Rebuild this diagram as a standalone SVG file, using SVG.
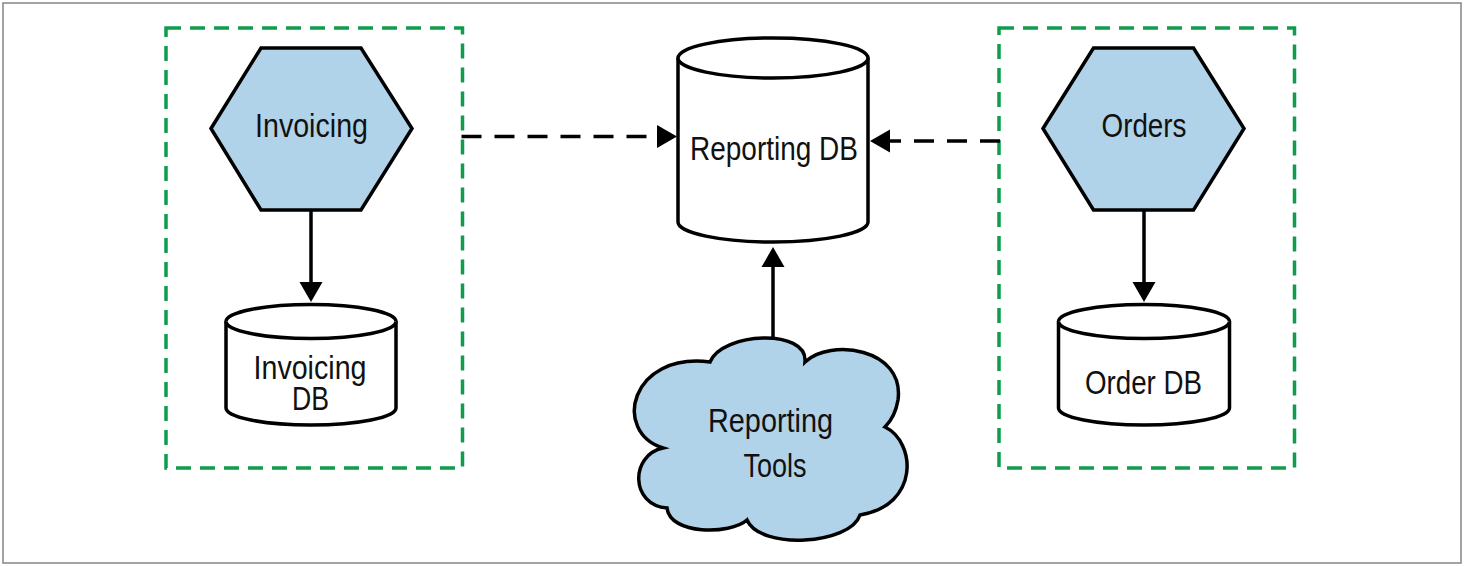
<svg xmlns="http://www.w3.org/2000/svg" width="1464" height="566" viewBox="0 0 1464 566">
<style>
.frame{fill:#fff;stroke:#858585;stroke-width:1.5}
.bound{fill:none;stroke:#0f9d4c;stroke-width:3.5;stroke-dasharray:15 9}
.svc{fill:#b1d3ea;stroke:#000;stroke-width:3.5;stroke-linejoin:miter}
.db{fill:#fff;stroke:#000;stroke-width:3.5}
.lbl{font-family:"Liberation Sans",Arial,sans-serif;font-size:33px;fill:#111;text-anchor:middle}
.conn{fill:none;stroke:#000;stroke-width:3.5}
.dash{stroke-dasharray:20 13}
</style>
<defs>
<marker id="head" markerUnits="userSpaceOnUse" markerWidth="22" markerHeight="25" refX="0" refY="11.5" orient="auto" overflow="visible">
<path d="M0,0 L20,11.5 L0,23 Z" fill="#000"/>
</marker>
</defs>
<rect class="frame" x="3" y="3" width="1458" height="560"/>
<g id="invoicing-boundary"><rect class="bound" x="166" y="28" width="296.5" height="440"/></g>
<g id="orders-boundary"><rect class="bound" x="999" y="28" width="295.5" height="440"/></g>
<g id="connectors">
<path class="conn dash" d="M461.5,136.5 H657" marker-end="url(#head)"/>
<path class="conn dash" d="M1000,141 H890" marker-end="url(#head)"/>
<path class="conn" d="M773,338 V267" marker-end="url(#head)"/>
<path class="conn" d="M311,210 V282" marker-end="url(#head)"/>
<path class="conn" d="M1144,210 V282" marker-end="url(#head)"/>
</g>
<g id="invoicing">
<polygon class="svc" points="211,128.5 261,48 361,48 412,128.5 361,210 261,210"/>
<text class="lbl" x="311.5" y="137" textLength="113" lengthAdjust="spacingAndGlyphs">Invoicing</text>
</g>
<g id="orders">
<polygon class="svc" points="1043,128.5 1093.5,48 1193.5,48 1244,128.5 1193.5,210 1093.5,210"/>
<text class="lbl" x="1144" y="137" textLength="85" lengthAdjust="spacingAndGlyphs">Orders</text>
</g>
<g id="reporting-db">
<path class="db" d="M678,58 V222 A95,20 0 0 0 868,222 V58 A95,20 0 0 0 678,58 Z"/>
<path class="db" d="M678,58 A95,20 0 0 0 868,58" fill="none"/>
<text class="lbl" x="774" y="159.5" textLength="168" lengthAdjust="spacingAndGlyphs">Reporting DB</text>
</g>
<g id="invoicing-db">
<path class="db" d="M226,321.5 V408 A85,17 0 0 0 396,408 V321.5 A85,17 0 0 0 226,321.5 Z"/>
<path class="db" d="M226,321.5 A85,17 0 0 0 396,321.5" fill="none"/>
<text class="lbl" x="310" y="378.5" textLength="113" lengthAdjust="spacingAndGlyphs">Invoicing</text>
<text class="lbl" x="310.5" y="410" textLength="37" lengthAdjust="spacingAndGlyphs">DB</text>
</g>
<g id="order-db">
<path class="db" d="M1058.5,321.5 V408 A85.5,17 0 0 0 1229.5,408 V321.5 A85.5,17 0 0 0 1058.5,321.5 Z"/>
<path class="db" d="M1058.5,321.5 A85.5,17 0 0 0 1229.5,321.5" fill="none"/>
<text class="lbl" x="1143.5" y="393.5" textLength="117" lengthAdjust="spacingAndGlyphs">Order DB</text>
</g>
<g id="reporting-tools">
<path class="svc" stroke-linejoin="round" d="M710,362 C722,332 808,328 805,362 C830,338 905,348 898,400 C896,412 891,421 885,427 C916,442 920,505 860,515 C850,545 760,550 747,520 C730,535 670,535 667,508 C630,505 630,455 663,448 C612,432 630,352 710,362 Z"/>
<text class="lbl" x="770.5" y="431.5" textLength="125" lengthAdjust="spacingAndGlyphs">Reporting</text>
<text class="lbl" x="775" y="476.5" textLength="63" lengthAdjust="spacingAndGlyphs">Tools</text>
</g>
</svg>
